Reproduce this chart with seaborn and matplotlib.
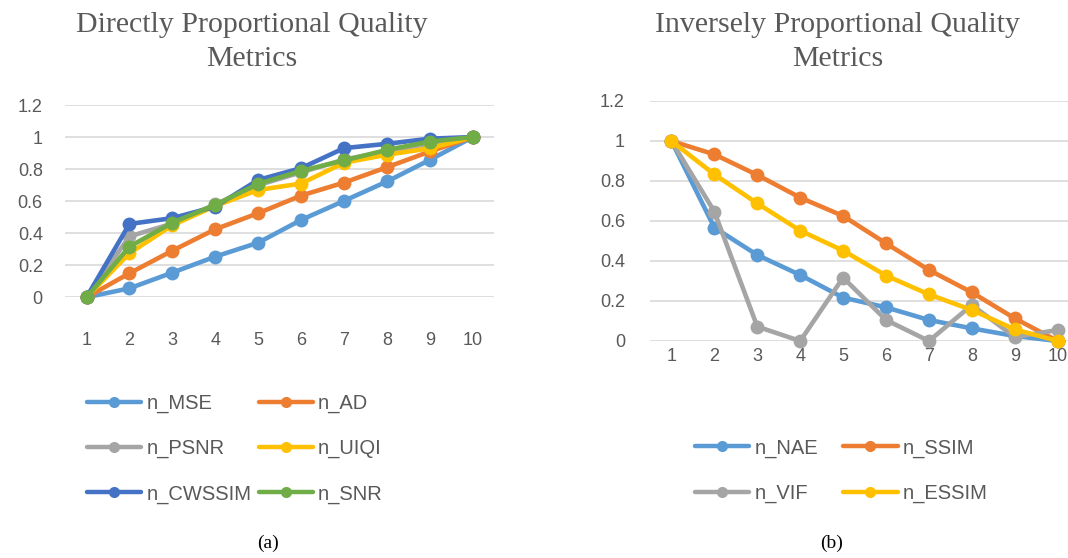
import numpy as np
import pandas as pd
import matplotlib
matplotlib.use("Agg")
import matplotlib.pyplot as plt
import seaborn as sns
from matplotlib.lines import Line2D

# x categories
steps = list(range(1, 11))

# (a) directly proportional metrics
n_MSE = [0, 0.056, 0.154, 0.254, 0.341, 0.483, 0.602, 0.723, 0.858, 1.0]
n_AD = [0, 0.15, 0.291, 0.425, 0.525, 0.635, 0.716, 0.812, 0.91, 1.0]
n_PSNR = [0, 0.38, 0.46, 0.58, 0.70, 0.78, 0.86, 0.91, 0.96, 1.0]
n_UIQI = [0, 0.275, 0.45, 0.57, 0.67, 0.71, 0.84, 0.89, 0.93, 1.0]
n_CWSSIM = [0, 0.458, 0.494, 0.566, 0.733, 0.806, 0.931, 0.958, 0.99, 1.0]
n_SNR = [0, 0.316, 0.466, 0.577, 0.708, 0.789, 0.854, 0.92, 0.972, 1.0]

# (b) inversely proportional metrics
n_NAE = [1.0, 0.567, 0.43, 0.33, 0.217, 0.168, 0.105, 0.063, 0.025, 0.0]
n_SSIM = [1.0, 0.933, 0.83, 0.717, 0.625, 0.488, 0.355, 0.243, 0.113, 0.0]
n_VIF = [1.0, 0.647, 0.072, 0.0, 0.317, 0.105, 0.0, 0.18, 0.02, 0.055]
n_ESSIM = [1.0, 0.833, 0.688, 0.552, 0.452, 0.327, 0.233, 0.155, 0.058, 0.0]

left_series = {"n_MSE": n_MSE, "n_AD": n_AD, "n_PSNR": n_PSNR,
               "n_UIQI": n_UIQI, "n_CWSSIM": n_CWSSIM, "n_SNR": n_SNR}
right_series = {"n_NAE": n_NAE, "n_SSIM": n_SSIM, "n_VIF": n_VIF, "n_ESSIM": n_ESSIM}

left_colors = {"n_MSE": "#5B9BD5", "n_AD": "#ED7D31", "n_PSNR": "#A5A5A5",
               "n_UIQI": "#FFC000", "n_CWSSIM": "#4472C4", "n_SNR": "#70AD47"}
right_colors = {"n_NAE": "#5B9BD5", "n_SSIM": "#ED7D31", "n_VIF": "#A5A5A5",
                "n_ESSIM": "#FFC000"}

# legend order (row-wise in the picture, matplotlib fills column-wise)
left_legend_order = ["n_MSE", "n_PSNR", "n_CWSSIM", "n_AD", "n_UIQI", "n_SNR"]
right_legend_order = ["n_NAE", "n_VIF", "n_SSIM", "n_ESSIM"]


def to_long(series):
    rows = []
    for name, vals in series.items():
        for x, v in zip(steps, vals):
            rows.append({"step": x, "value": v, "metric": name})
    return pd.DataFrame(rows)


sns.set_style("white")
plt.rcParams['font.family'] = ['Liberation Sans', 'DejaVu Sans']
txt = "#595959"

fig = plt.figure(figsize=(10.68, 5.58), dpi=100)
ax1 = fig.add_axes([0.0609, 0.4672, 0.402, 0.3446])
ax2 = fig.add_axes([0.6086, 0.3889, 0.3914, 0.4301])


def draw(ax, series, colors, xpad):
    df = to_long(series)
    sns.lineplot(data=df, x="step", y="value", hue="metric", palette=colors,
                 hue_order=list(series.keys()), marker="o", markersize=10,
                 markeredgewidth=0, linewidth=3.3, ax=ax, legend=False,
                 clip_on=False, zorder=3)
    ax.set_ylim(0, 1.2)
    ax.set_yticks(np.arange(0, 1.21, 0.2))
    ax.set_yticklabels(["0", "0.2", "0.4", "0.6", "0.8", "1", "1.2"])
    ax.set_xticks(steps)
    ax.set_xlabel("")
    ax.set_ylabel("")
    ax.grid(axis="y", color="#D9D9D9", linewidth=1.2, zorder=0)
    ax.grid(axis="x", visible=False)
    for s in ax.spines.values():
        s.set_visible(False)
    ax.tick_params(axis="y", length=0, pad=16, labelsize=13, labelcolor=txt)
    ax.tick_params(axis="x", length=0, pad=xpad, labelsize=13, labelcolor=txt)


draw(ax1, left_series, left_colors, 25)
ax1.set_xlim(0.5, 10.5)
draw(ax2, right_series, right_colors, 5)
ax2.set_xlim(0.5, 10.24)
ax2.tick_params(axis="y", pad=18)


def legend(colors, order, anchor, colspace):
    handles = [Line2D([], [], color=colors[k], lw=3.2, marker="o", markersize=8,
                      markeredgewidth=0) for k in order]
    fig.legend(handles, order, loc="upper left", bbox_to_anchor=anchor,
               ncol=2, frameon=False, borderpad=0, borderaxespad=0,
               handlelength=2.7, handletextpad=0.25, columnspacing=colspace,
               labelspacing=1.3, fontsize=14.5, labelcolor=txt)


legend(left_colors, left_legend_order, (0.0815, 0.2945), 0.35)
legend(right_colors, right_legend_order, (0.6507, 0.2145), 1.25)

serif = ['Liberation Serif', 'DejaVu Serif']
fig.text(0.236, 0.978, "Directly Proportional Quality\nMetrics", ha="center", va="top",
         fontsize=21.5, color=txt, family=serif, linespacing=1.37)
fig.text(0.784, 0.978, "Inversely Proportional Quality\nMetrics", ha="center", va="top",
         fontsize=21.5, color=txt, family=serif, linespacing=1.37)
fig.text(0.251, 0.027, "(a)", ha="center", va="center", fontsize=14, family=serif, color="black")
fig.text(0.779, 0.027, "(b)", ha="center", va="center", fontsize=14, family=serif, color="black")

fig.savefig("out.png", dpi=100)
